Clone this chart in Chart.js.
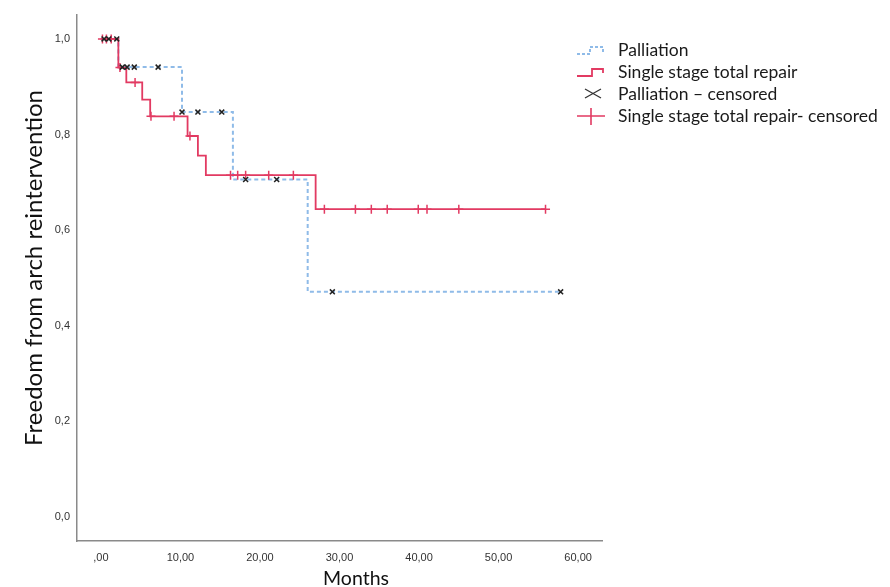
<!DOCTYPE html>
<html>
<head>
<meta charset="utf-8">
<script src="https://cdn.jsdelivr.net/npm/chart.js@4.4.0/dist/chart.umd.min.js"></script>
<style>
  html, body { margin: 0; padding: 0; background: #fff; }
</style>
</head>
<body>
<canvas id="km" width="890" height="587"></canvas>
<script>
// Kaplan-Meier steps: month of each drop and survival after it (last point = end of follow-up)
const palliationTimes = [0, 2.2, 10.2, 16.6, 26.0, 57.8];
const palliationSurv  = [1.0, 0.941, 0.847, 0.706, 0.471, 0.471];
const palliationCensTimes = [0.4, 1.0, 2.0, 2.7, 3.3, 4.2, 7.2, 10.2, 12.2, 15.2, 18.2, 22.1, 29.1, 57.8];
const palliationCensSurv  = [1.0, 1.0, 1.0, 0.941, 0.941, 0.941, 0.941, 0.847, 0.847, 0.847, 0.706, 0.706, 0.471, 0.471];

const repairTimes = [0, 2.2, 3.2, 5.2, 6.2, 10.9, 12.2, 13.2, 27.0, 55.9];
const repairSurv  = [1.0, 0.94, 0.909, 0.873, 0.838, 0.797, 0.756, 0.715, 0.644, 0.644];
const repairCensTimes = [0.2, 0.7, 1.3, 2.4, 4.3, 6.3, 9.2, 11.2, 16.3, 17.2, 18.2, 21.1, 24.2, 28.1, 32.0, 34.0, 36.0, 39.9, 41.0, 45.0, 55.9];
const repairCensSurv  = [1.0, 1.0, 1.0, 0.94, 0.909, 0.838, 0.838, 0.797, 0.715, 0.715, 0.715, 0.715, 0.715, 0.644, 0.644, 0.644, 0.644, 0.644, 0.644, 0.644, 0.644];

const xTicks = [0, 10, 20, 30, 40, 50, 60];
const xTickLabels = [",00", "10,00", "20,00", "30,00", "40,00", "50,00", "60,00"];
const yTicks = [0, 0.2, 0.4, 0.6, 0.8, 1.0];
const yTickLabels = ["0,0", "0,2", "0,4", "0,6", "0,8", "1,0"];

const xTitle = "Months";
const yTitle = "Freedom from arch reintervention";
const legendLabels = ["Palliation", "Single stage total repair", "Palliation \u2013 censored", "Single stage total repair- censored"];

const RED = "#e23a62";
const BLUE = "#8fbbe8";

const zip = (xs, ys) => xs.map((x, i) => ({ x: x, y: ys[i] }));

// legend + axis titles drawn by hand, SPSS style (legend overlaps the plot's right edge)
const kmDecor = {
  id: "kmDecor",
  afterDraw(chart) {
    const ctx = chart.ctx;
    const rows = [50, 72, 94, 116];
    ctx.save();

    // palliation: dotted step
    ctx.strokeStyle = BLUE;
    ctx.lineWidth = 2;
    ctx.setLineDash([3, 2]);
    ctx.beginPath();
    ctx.moveTo(577, 54); ctx.lineTo(590, 54); ctx.lineTo(590, 47);
    ctx.lineTo(603, 47); ctx.lineTo(603, 52);
    ctx.stroke();
    ctx.setLineDash([]);

    // repair: solid step
    ctx.strokeStyle = RED;
    ctx.lineWidth = 1.8;
    ctx.beginPath();
    ctx.moveTo(577, 76); ctx.lineTo(592, 76); ctx.lineTo(592, 69);
    ctx.lineTo(603, 69); ctx.lineTo(603, 73);
    ctx.stroke();

    // palliation censored: x
    ctx.strokeStyle = "#333";
    ctx.lineWidth = 1.3;
    ctx.beginPath();
    ctx.moveTo(585, 89); ctx.lineTo(601, 98);
    ctx.moveTo(585, 98); ctx.lineTo(601, 89);
    ctx.stroke();

    // repair censored: line with +
    ctx.strokeStyle = RED;
    ctx.lineWidth = 1.6;
    ctx.beginPath();
    ctx.moveTo(577, 116); ctx.lineTo(605, 116);
    ctx.moveTo(591, 108); ctx.lineTo(591, 125);
    ctx.stroke();

    ctx.fillStyle = "#1a1a1a";
    ctx.font = "17.5px Lato";
    ctx.textBaseline = "middle";
    ctx.textAlign = "left";
    legendLabels.forEach((t, i) => ctx.fillText(t, 618, rows[i]));

    // axis titles
    ctx.fillStyle = "#111";
    ctx.textAlign = "center";
    ctx.textBaseline = "alphabetic";
    ctx.font = "19.5px Lato";
    ctx.fillText(xTitle, 356, 585);

    ctx.font = "24px Lato";
    ctx.translate(42, 268);
    ctx.rotate(-Math.PI / 2);
    ctx.fillText(yTitle, 0, 0);
    ctx.restore();
  }
};

new Chart(document.getElementById("km"), {
  type: "line",
  data: {
    datasets: [
      {
        label: legendLabels[2],
        type: "scatter",
        data: zip(palliationCensTimes, palliationCensSurv),
        pointStyle: "crossRot",
        pointRadius: 3.5,
        pointBorderColor: "#222",
        pointBorderWidth: 1.5,
        showLine: false,
        order: 0
      },
      {
        label: legendLabels[3],
        type: "scatter",
        data: zip(repairCensTimes, repairCensSurv),
        pointStyle: "cross",
        pointRadius: 4.5,
        pointBorderColor: RED,
        pointBorderWidth: 1.5,
        showLine: false,
        order: 1
      },
      {
        label: legendLabels[1],
        data: zip(repairTimes, repairSurv),
        stepped: "before",
        borderColor: RED,
        borderWidth: 1.8,
        pointRadius: 0,
        fill: false,
        order: 2
      },
      {
        label: legendLabels[0],
        data: zip(palliationTimes, palliationSurv),
        stepped: "before",
        borderColor: BLUE,
        borderWidth: 2,
        borderDash: [4, 3],
        pointRadius: 0,
        fill: false,
        order: 3
      }
    ]
  },
  options: {
    responsive: false,
    animation: false,
    devicePixelRatio: 1,
    layout: { padding: { top: 15, right: 288, left: 0, bottom: 0 } },
    plugins: {
      legend: { display: false },
      tooltip: { enabled: false }
    },
    scales: {
      x: {
        type: "linear",
        min: -3,
        max: 63,
        grid: { display: false, drawTicks: false },
        border: { display: true, color: "#8a8a8a", width: 1.5 },
        afterBuildTicks: (s) => { s.ticks = xTicks.map(v => ({ value: v })); },
        afterFit: (s) => { s.height = 46; },
        ticks: {
          padding: 10,
          color: "#333",
          font: { family: "Liberation Sans", size: 11 },
          maxRotation: 0,
          callback: (v, i) => xTickLabels[i]
        }
      },
      y: {
        type: "linear",
        min: -0.05,
        max: 1.05,
        grid: { display: false, drawTicks: false },
        border: { display: true, color: "#8a8a8a", width: 1.5 },
        afterBuildTicks: (s) => { s.ticks = yTicks.map(v => ({ value: v })); },
        afterFit: (s) => { s.width = 77; },
        ticks: {
          padding: 7,
          color: "#333",
          font: { family: "Liberation Sans", size: 11 },
          callback: (v, i) => yTickLabels[i]
        }
      }
    }
  },
  plugins: [kmDecor]
});
</script>
</body>
</html>
